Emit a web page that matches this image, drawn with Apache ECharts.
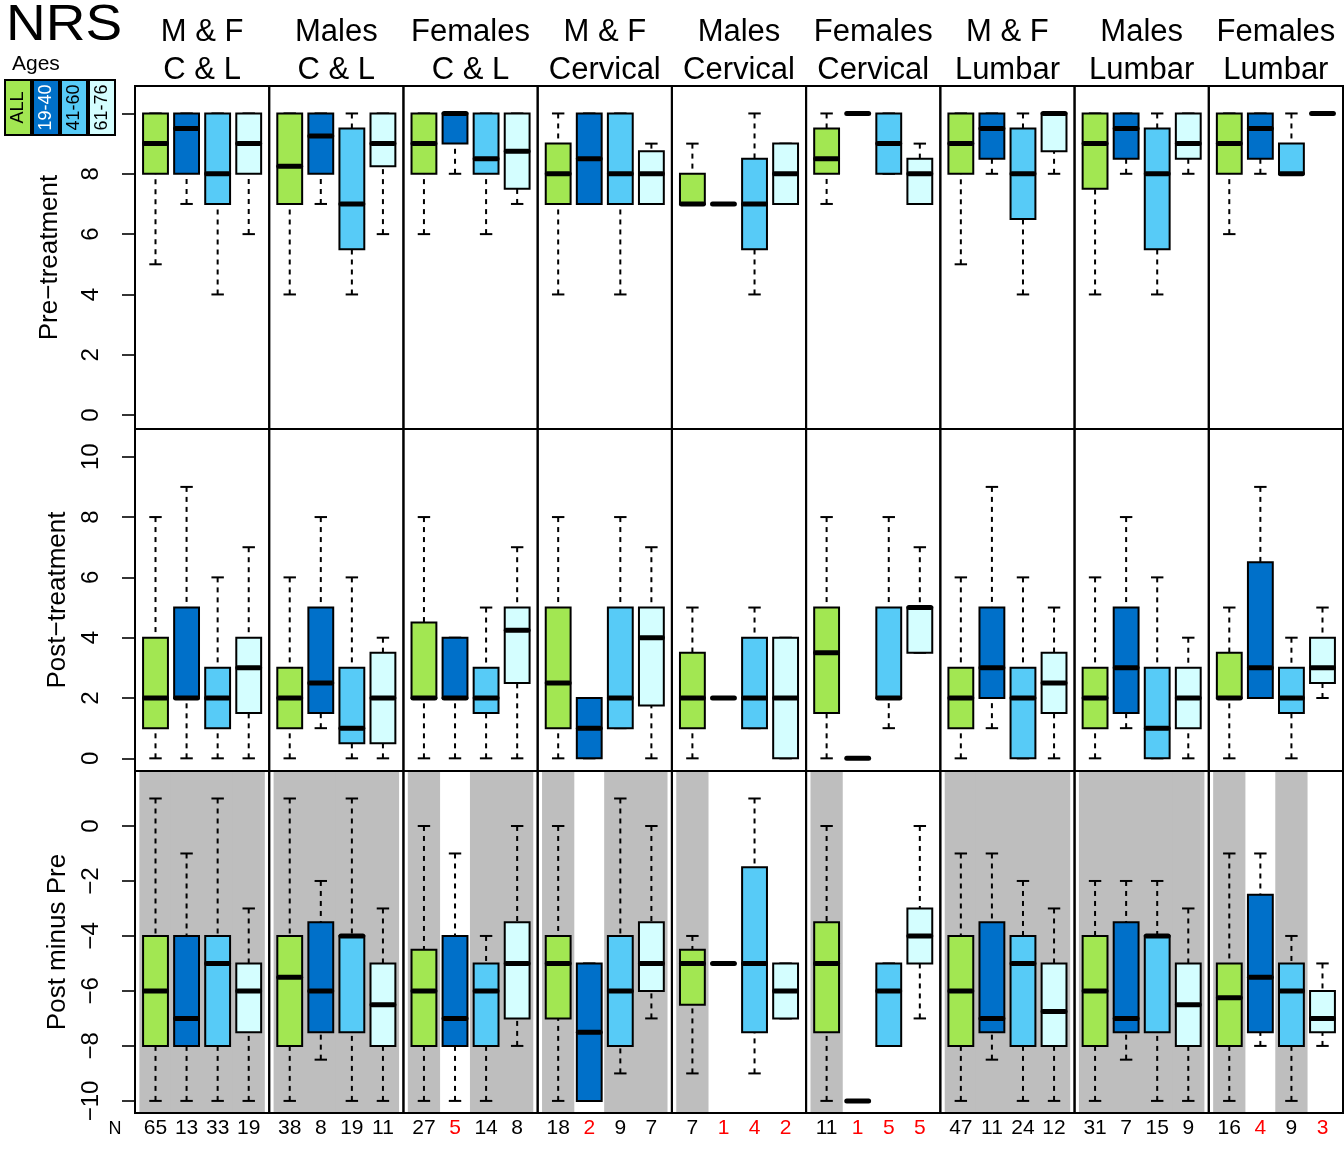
<!DOCTYPE html>
<html><head><meta charset="utf-8">
<script src="https://cdn.jsdelivr.net/npm/echarts@6/dist/echarts.min.js"></script>
<style>html,body{margin:0;padding:0;background:#fff}#c{width:1344px;height:1152px}</style>
</head><body><div id="c"></div>
<script>
// ---------------- data ----------------
const panelTitles = ['M & F\nC & L','Males\nC & L','Females\nC & L','M & F\nCervical','Males\nCervical','Females\nCervical','M & F\nLumbar','Males\nLumbar','Females\nLumbar'];
const ageGroups = ['ALL','19-40','41-60','61-76'];
const rowTitles = ['Pre\u2212treatment','Post\u2212treatment','Post minus Pre'];
const preTicks = [0,2,4,6,8,10];
const postTicks = [0,2,4,6,8,10];
const diffTicks = [0,-2,-4,-6,-8,-10];
const nCounts = [[65,13,33,19],[38,8,19,11],[27,5,14,8],[18,2,9,7],[7,1,4,2],[11,1,5,5],[47,11,24,12],[31,7,15,9],[16,4,9,3]];
// each box: [min, q1, median, q3, max]
const preStats = [
  [[5,8,9,10,10],[7,8,9.5,10,10],[4,7,8,10,10],[6,8,9,10,10]],
  [[4,7,8.25,10,10],[7,8,9.25,10,10],[4,5.5,7,9.5,10],[6,8.25,9,10,10]],
  [[6,8,9,10,10],[8,9,10,10,10],[6,8,8.5,10,10],[7,7.5,8.75,10,10]],
  [[4,7,8,9,10],[7,7,8.5,10,10],[4,7,8,10,10],[7,7,8,8.75,9]],
  [[7,7,7,8,9],[7,7,7,7,7],[4,5.5,7,8.5,10],[7,7,8,9,9]],
  [[7,8,8.5,9.5,10],[10,10,10,10,10],[8,8,9,10,10],[7,7,8,8.5,9]],
  [[5,8,9,10,10],[8,8.5,9.5,10,10],[4,6.5,8,9.5,10],[8,8.75,10,10,10]],
  [[4,7.5,9,10,10],[8,8.5,9.5,10,10],[4,5.5,8,9.5,10],[8,8.5,9,10,10]],
  [[6,8,9,10,10],[8,8.5,9.5,10,10],[8,8,8,9,10],[10,10,10,10,10]]
];
const postStats = [
  [[0,1,2,4,8],[0,2,2,5,9],[0,1,2,3,6],[0,1.5,3,4,7]],
  [[0,1,2,3,6],[1,1.5,2.5,5,8],[0,0.5,1,3,6],[0,0.5,2,3.5,4]],
  [[0,2,2,4.5,8],[0,2,2,4,4],[0,1.5,2,3,5],[0,2.5,4.25,5,7]],
  [[0,1,2.5,5,8],[0,0,1,2,2],[1,1,2,5,8],[0,1.75,4,5,7]],
  [[0,1,2,3.5,5],[2,2,2,2,2],[1,1,2,4,5],[0,0,2,4,4]],
  [[0,1.5,3.5,5,8],[0,0,0,0,0],[1,2,2,5,8],[3.5,3.5,5,5,7]],
  [[0,1,2,3,6],[1,2,3,5,9],[0,0,2,3,6],[0,1.5,2.5,3.5,5]],
  [[0,1,2,3,6],[1,1.5,3,5,8],[0,0,1,3,6],[0,1,2,3,4]],
  [[0,2,2,3.5,5],[2,2,3,6.5,9],[0,1.5,2,3,4],[2,2.5,3,4,5]]
];
const diffStats = [
  [[-10,-8,-6,-4,1],[-10,-8,-7,-4,-1],[-10,-8,-5,-4,1],[-10,-7.5,-6,-5,-3]],
  [[-10,-8,-5.5,-4,1],[-8.5,-7.5,-6,-3.5,-2],[-10,-7.5,-4,-4,1],[-10,-8,-6.5,-5,-3]],
  [[-10,-8,-6,-4.5,0],[-10,-8,-7,-4,-1],[-10,-8,-6,-5,-4],[-8,-7,-5,-3.5,0]],
  [[-10,-7,-5,-4,0],[-10,-10,-7.5,-5,-5],[-9,-8,-6,-4,1],[-7,-6,-5,-3.5,0]],
  [[-9,-6.5,-5,-4.5,-4],[-5,-5,-5,-5,-5],[-9,-7.5,-5,-1.5,1],[-7,-7,-6,-5,-5]],
  [[-10,-7.5,-5,-3.5,0],[-10,-10,-10,-10,-10],[-8,-8,-6,-5,-5],[-7,-5,-4,-3,0]],
  [[-10,-8,-6,-4,-1],[-8.5,-7.5,-7,-3.5,-1],[-10,-8,-5,-4,-2],[-10,-8,-6.75,-5,-3]],
  [[-10,-8,-6,-4,-2],[-8.5,-7.5,-7,-3.5,-2],[-10,-7.5,-4,-4,-2],[-10,-8,-6.5,-5,-3]],
  [[-10,-8,-6.25,-5,-1],[-8,-7.5,-5.5,-2.5,-1],[-10,-8,-6,-5,-4],[-8,-7.5,-7,-6,-5]]
];

// ---------------- styling / layout ----------------
const FONT = '"Liberation Sans", Arial, Helvetica, sans-serif';
const ageColors = ['#A2E752','#0070C9','#57CBF7','#D4FEFF'];
const ageTextColors = ['#000','#fff','#000','#000'];
const X0 = 135, PW = (1343 - 135) / 9;
const rowTops = [86, 429, 771];
const rowHeights = [343, 342, 342];
const yRanges = [[-0.46, 10.91], [-0.42, 10.92], [-10.44, 2.0]];
const rowTicks = [preTicks, postTicks, diffTicks];
const rowStats = [preStats, postStats, diffStats];
const rowNameGaps = [72, 64, 64];

function renderBox(params, api) {
  const x = api.value(0);
  const mn = api.value(1), q1 = api.value(2), md = api.value(3), q3 = api.value(4), mx = api.value(5);
  const g = api.value(6);
  const pMin = api.coord([x, mn]), pQ1 = api.coord([x, q1]), pMed = api.coord([x, md]),
        pQ3 = api.coord([x, q3]), pMax = api.coord([x, mx]);
  const xl = api.coord([x - 0.4, md])[0], xr = api.coord([x + 0.4, md])[0];
  const sl = api.coord([x - 0.2, md])[0], sr = api.coord([x + 0.2, md])[0];
  const cx = pMed[0];
  const dash = {stroke: '#000', lineWidth: 2, lineDash: [5, 5], fill: null};
  const solid = {stroke: '#000', lineWidth: 2, fill: null};
  return {type: 'group', children: [
    {type: 'line', shape: {x1: cx, y1: pMax[1], x2: cx, y2: pQ3[1]}, style: dash},
    {type: 'line', shape: {x1: cx, y1: pMin[1], x2: cx, y2: pQ1[1]}, style: dash},
    {type: 'line', shape: {x1: sl, y1: pMax[1], x2: sr, y2: pMax[1]}, style: solid},
    {type: 'line', shape: {x1: sl, y1: pMin[1], x2: sr, y2: pMin[1]}, style: solid},
    {type: 'rect', shape: {x: xl, y: pQ3[1], width: xr - xl, height: pQ1[1] - pQ3[1]},
     style: {fill: ageColors[g], stroke: '#000', lineWidth: 2}},
    {type: 'line', shape: {x1: xl + 1.5, y1: pMed[1], x2: xr - 1.5, y2: pMed[1]},
     style: {stroke: '#000', lineWidth: 5, lineCap: 'round', fill: null}}
  ]};
}

function renderBand(params, api) {
  const x = api.value(0), n = api.value(1);
  const cs = params.coordSys;
  const l = api.coord([x - 0.5, 0])[0], r = api.coord([x + 0.5, 0])[0];
  const children = [];
  if (n > 5) {
    children.push({type: 'rect', shape: {x: l - 0.6, y: cs.y + 1, width: r - l + 1.2, height: cs.height - 2},
      style: {fill: '#BEBEBE'}});
  }
  children.push({type: 'text', x: api.coord([x, 0])[0], y: cs.y + cs.height + 15,
    style: {text: String(n), fill: n <= 5 ? '#FF0000' : '#000', font: '21px ' + FONT,
      align: 'center', verticalAlign: 'middle'}});
  return {type: 'group', children};
}

const grids = [], xAxes = [], yAxes = [], series = [];
for (let r = 0; r < 3; r++) {
  for (let p = 0; p < 9; p++) {
    const idx = r * 9 + p;
    grids.push({left: X0 + p * PW, top: rowTops[r], width: PW, height: rowHeights[r],
      show: true, borderColor: '#000', borderWidth: 2, backgroundColor: 'transparent', containLabel: false});
    xAxes.push({gridIndex: idx, type: 'value', min: 0.34, max: 4.66, show: false});
    if (p === 0) {
      yAxes.push({gridIndex: idx, type: 'value', min: yRanges[r][0], max: yRanges[r][1],
        axisLine: {show: false}, splitLine: {show: false},
        axisTick: {show: true, length: 13, lineStyle: {color: '#000', width: 1.6}, customValues: rowTicks[r]},
        axisLabel: {show: true, rotate: 90, margin: 32, fontSize: 24, color: '#000', fontFamily: FONT,
          customValues: rowTicks[r], formatter: v => String(v).replace('-', '\u2212')},
        name: rowTitles[r], nameLocation: 'middle', nameGap: rowNameGaps[r],
        nameTextStyle: {fontSize: 26, color: '#000', fontFamily: FONT}});
    } else {
      yAxes.push({gridIndex: idx, type: 'value', min: yRanges[r][0], max: yRanges[r][1], show: false});
    }
    if (r === 2) {
      series.push({type: 'custom', xAxisIndex: idx, yAxisIndex: idx, z: 1, silent: true,
        encode: {x: 0, y: 1}, renderItem: renderBand,
        data: nCounts[p].map((n, i) => [i + 1, n])});
    }
    series.push({type: 'custom', xAxisIndex: idx, yAxisIndex: idx, z: 3, silent: true,
      encode: {x: 0, y: [1, 2, 3, 4, 5]}, renderItem: renderBox,
      data: rowStats[r][p].map((s, i) => [i + 1, s[0], s[1], s[2], s[3], s[4], i])});
  }
}

const graphics = [];
panelTitles.forEach((t, p) => {
  graphics.push({type: 'text', x: X0 + p * PW + PW / 2, y: 51, z: 100,
    style: {text: t, font: '31px ' + FONT, lineHeight: 38, fill: '#000', align: 'center', verticalAlign: 'middle'}});
});
graphics.push({type: 'text', x: 6, y: 26, scaleX: 1.1, z: 100,
  style: {text: 'NRS', font: '50px ' + FONT, fill: '#000', align: 'left', verticalAlign: 'middle'}});
graphics.push({type: 'text', x: 12, y: 64, z: 100,
  style: {text: 'Ages', font: '21px ' + FONT, fill: '#000', align: 'left', verticalAlign: 'middle'}});
const legX = [5, 33, 61, 89];
ageGroups.forEach((a, i) => {
  graphics.push({type: 'rect', z: 100, shape: {x: legX[i], y: 80, width: 26, height: 55},
    style: {fill: ageColors[i], stroke: '#000', lineWidth: 2}});
  graphics.push({type: 'text', z: 101, x: legX[i] + 13, y: 107.5, rotation: Math.PI / 2,
    style: {text: a, font: '18px ' + FONT, fill: ageTextColors[i], align: 'center', verticalAlign: 'middle'}});
});
graphics.push({type: 'text', x: 115, y: 1129, z: 100,
  style: {text: 'N', font: '18px ' + FONT, fill: '#000', align: 'center', verticalAlign: 'middle'}});

const chart = echarts.init(document.getElementById('c'), null, {renderer: 'canvas'});
chart.setOption({
  animation: false,
  backgroundColor: '#fff',
  textStyle: {fontFamily: FONT},
  grid: grids, xAxis: xAxes, yAxis: yAxes, series: series,
  graphic: {elements: graphics}
});
</script></body></html>
